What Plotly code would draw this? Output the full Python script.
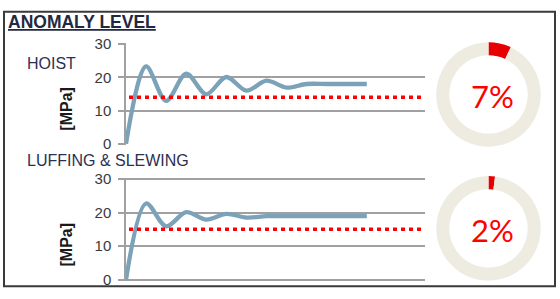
import plotly.graph_objects as go

W, H = 560, 299

# ---- data ----
x_idx = list(range(13))
hoist_values = [0, 23.3, 12.9, 21.1, 14.9, 20.1, 16.0, 19.0, 16.9, 18.0, 18.0, 18.0, 18.0]
luffing_values = [0, 22.7, 15.9, 20.1, 17.9, 19.6, 18.5, 18.9, 18.9, 18.9, 18.9, 18.9, 18.9]
hoist_threshold = 14
luffing_threshold = 15
hoist_pct = 7
luffing_pct = 2
y_ticks = [0, 10, 20, 30]
panel_titles = ["HOIST", "LUFFING & SLEWING"]

def px_x(p):
    return p / W

def px_y(p):
    return (H - p) / H

fig = go.Figure()

LINE_COL = "#7BA2B8"
GRID_COL = "#A0A0A0"
TXT_COL = "#3A3A3A"
PAD = 0.3  # range padding (data units) so edge gridlines are drawn

panels = [
    dict(vals=hoist_values, thr=hoist_threshold, pct=hoist_pct, y0=143, y30=38,
         xa="x", ya="y", donut_c=(488.5, 91), title_y=58, unit_y=106),
    dict(vals=luffing_values, thr=luffing_threshold, pct=luffing_pct, y0=286, y30=180,
         xa="x2", ya="y2", donut_c=(488.5, 232), title_y=161, unit_y=249),
]

for i, p in enumerate(panels):
    fig.add_trace(go.Scatter(x=x_idx, y=p["vals"], mode="lines",
                             line=dict(color=LINE_COL, width=4.3, shape="spline", smoothing=0.9),
                             xaxis=p["xa"], yaxis=p["ya"], showlegend=False, hoverinfo="skip"))
    fig.add_shape(type="line", xref=f"{p['xa']} domain", x0=0.01, x1=1,
                  yref=p["ya"], y0=p["thr"], y1=p["thr"],
                  line=dict(color="#FF0000", width=3.5, dash="4px,4px"))
    cx, cy = p["donut_c"]
    r = 55
    fig.add_trace(go.Pie(values=[p["pct"], 100 - p["pct"]], sort=False, direction="clockwise",
                         rotation=0, hole=0.75, textinfo="none", hoverinfo="skip",
                         marker=dict(colors=["#E60000", "#EEECE1"], line=dict(width=0)),
                         domain=dict(x=[px_x(cx - r), px_x(cx + r)], y=[px_y(cy + r), px_y(cy - r)]),
                         showlegend=False))
    fig.add_annotation(x=px_x(cx + 4), y=px_y(cy + 2), xref="paper", yref="paper",
                       xanchor="center", yanchor="middle",
                       text=f"{p['pct']}%", showarrow=False,
                       font=dict(family="Lato", size=31, color="#FF0000"))
    fig.add_annotation(x=px_x(25), y=px_y(p["title_y"]), xref="paper", yref="paper",
                       xanchor="left", yanchor="middle", text=panel_titles[i], showarrow=False,
                       font=dict(family="Liberation Sans", size=16, color="#2B3050"))
    fig.add_annotation(x=px_x(67), y=px_y(p["unit_y"]), xref="paper", yref="paper",
                       xanchor="center", yanchor="middle",
                       text="<b>[MPa]</b>", textangle=-90, showarrow=False,
                       font=dict(family="Liberation Sans", size=16, color="#1A1A1A"))

    ax_common = dict(range=[0, 14.9], showgrid=False, zeroline=False, showticklabels=False,
                     showline=False, fixedrange=True)
    ppu = (p["y0"] - p["y30"]) / 30.0
    yax = dict(range=[-PAD, 30 + PAD], tickvals=y_ticks, showgrid=True, gridcolor=GRID_COL, gridwidth=1.5,
               zeroline=False, showline=True, linecolor=GRID_COL, linewidth=1.5,
               ticks="outside", ticklen=6, tickcolor=GRID_COL, tickwidth=1.5,
               tickfont=dict(family="Liberation Sans", size=15, color=TXT_COL),
               ticklabelstandoff=4,
               domain=[px_y(p["y0"] + PAD * ppu), px_y(p["y30"] - PAD * ppu)], anchor=p["xa"])
    xdom = [px_x(126), px_x(425)]
    if i == 0:
        fig.update_layout(xaxis=dict(domain=xdom, anchor="y", **ax_common), yaxis=yax)
    else:
        fig.update_layout(xaxis2=dict(domain=xdom, anchor="y2", **ax_common), yaxis2=yax)

# title
fig.add_annotation(x=px_x(6), y=px_y(15), xref="paper", yref="paper", xanchor="left", yanchor="middle",
                   text="<b><u>ANOMALY LEVEL</u></b>", showarrow=False,
                   font=dict(family="Liberation Sans", size=17.5, color="#222840"))

# outer frame
fig.add_shape(type="rect", xref="paper", yref="paper", x0=px_x(4), x1=px_x(555), y0=px_y(293), y1=px_y(4),
              line=dict(color="#3A3A3A", width=2))

fig.update_layout(width=W, height=H, margin=dict(l=0, r=0, t=0, b=0),
                  paper_bgcolor="white", plot_bgcolor="white", showlegend=False)

fig.write_html("out.html")
